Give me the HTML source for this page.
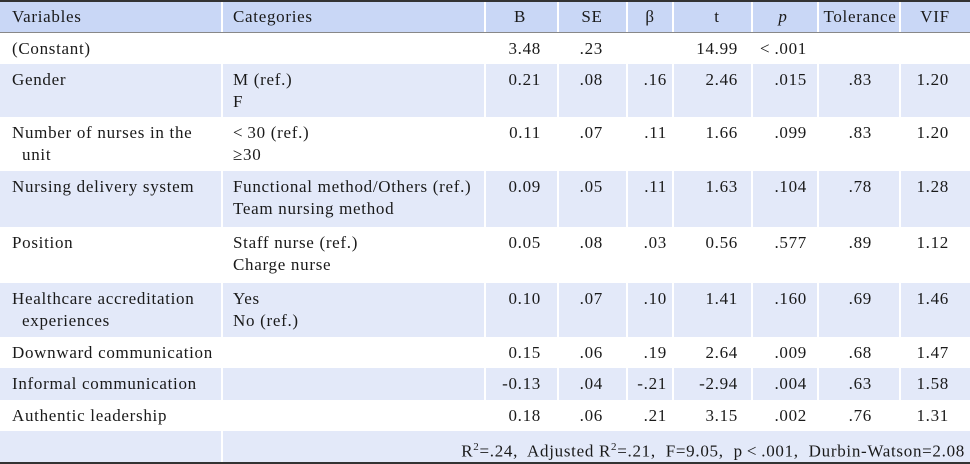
<!DOCTYPE html>
<html><head><meta charset="utf-8"><style>
body{margin:0;width:970px;height:464px;overflow:hidden;background:#fff;font-family:"Liberation Serif",serif;font-size:17px;letter-spacing:0.7px;color:#1a1a1a}
#t{position:absolute;left:0;top:0;width:970px;height:464px}
.row{position:absolute;left:0;width:970px}
.sh{background:#e3e9f9}
.hd{background:#c9d7f6}
.vl{position:absolute;width:2px;background:#fff}
.c{position:absolute;white-space:nowrap;line-height:22px}
.r{text-align:right}
</style></head><body>
<div id="t"></div>
<script>
const bounds=[[2,33],[33,64],[64,117],[117,171],[171,227],[227,283],[283,337],[337,368],[368,400],[400,431],[431,462]];
const vars=[["(Constant)"],["Gender"],["Number of nurses in the","unit"],["Nursing delivery system"],["Position"],["Healthcare accreditation","experiences"],["Downward communication"],["Informal communication"],["Authentic leadership"]];
const cats=[[],["M (ref.)","F"],["&lt;&thinsp;30 (ref.)","≥30"],["Functional method/Others (ref.)","Team nursing method"],["Staff nurse (ref.)","Charge nurse"],["Yes","No (ref.)"],[],[],[]];
const bVals=["3.48","0.21","0.11","0.09","0.05","0.10","0.15","-0.13","0.18"];
const seVals=[".23",".08",".07",".05",".08",".07",".06",".04",".06"];
const betaVals=["",".16",".11",".11",".03",".10",".19","-.21",".21"];
const tVals=["14.99","2.46","1.66","1.63","0.56","1.41","2.64","-2.94","3.15"];
const pVals=["&lt;&thinsp;.001",".015",".099",".104",".577",".160",".009",".004",".002"];
const tolVals=["",".83",".83",".78",".89",".69",".68",".63",".76"];
const vifVals=["","1.20","1.20","1.28","1.12","1.46","1.47","1.58","1.31"];
const T=document.getElementById('t');
function add(cls,style,text,name){const d=document.createElement('div');d.className=cls;d.style.cssText=style;if(text!==undefined)d.innerHTML=text;


T.appendChild(d);return d;}
bounds.forEach((b,i)=>{let cls='row'+(i==0?' hd':(i%2==0?' sh':''));
add(cls,`top:${b[0]}px;height:${b[1]-b[0]}px`,undefined,i==0?'header-row':(i==10?'footer-row':'row-'+i));});
const divs=[222,485,558,627,673,752,818,900];
divs.forEach((x)=>{add('vl',`left:${x-1}px;top:2px;height:429px`,undefined,'column-divider');});
add('vl','left:221px;top:431px;height:31px',undefined,'column-divider');
add('row','top:0;height:2px;background:#333',undefined,'top-border');
add('row','top:32px;height:1px;background:#888',undefined,'header-border');
add('row','top:462px;height:2px;background:#333',undefined,'bottom-border');
const heads=[["B",520],["SE",592],["β",650],["t",717],["<i>p</i>",783],["Tolerance",860],["VIF",935]];
add('c','left:12px;top:6px','Variables','header-variables');
add('c','left:233px;top:6px','Categories','header-categories');
heads.forEach(h=>{add('c',`left:${h[1]-50}px;width:100px;text-align:center;top:6px`,h[0],'header-cell');});
const rights=[541,603,667,738,807,872,949];
const cols=[bVals,seVals,betaVals,tVals,pVals,tolVals,vifVals];
vars.forEach((v,i)=>{const top=bounds[i+1][0]+5;
 v.forEach((s,k)=>add('c',`left:${k?22:12}px;top:${top+k*22}px`,s,'variable-label'));
 cats[i].forEach((s,k)=>add('c',`left:233px;top:${top+k*22}px`,s,'category-label'));
 cols.forEach((arr,j)=>{add('c r',`left:${rights[j]-100}px;width:100px;top:${top}px`,arr[i],'value-cell');});
});
add('c r','left:300px;width:665px;top:436px','R<sup style="font-size:11px">2</sup>=.24,&nbsp; Adjusted R<sup style="font-size:11px">2</sup>=.21,&nbsp; F=9.05,&nbsp; p&thinsp;&lt;&thinsp;.001,&nbsp; Durbin-Watson=2.08','model-summary');
</script>
</body></html>
